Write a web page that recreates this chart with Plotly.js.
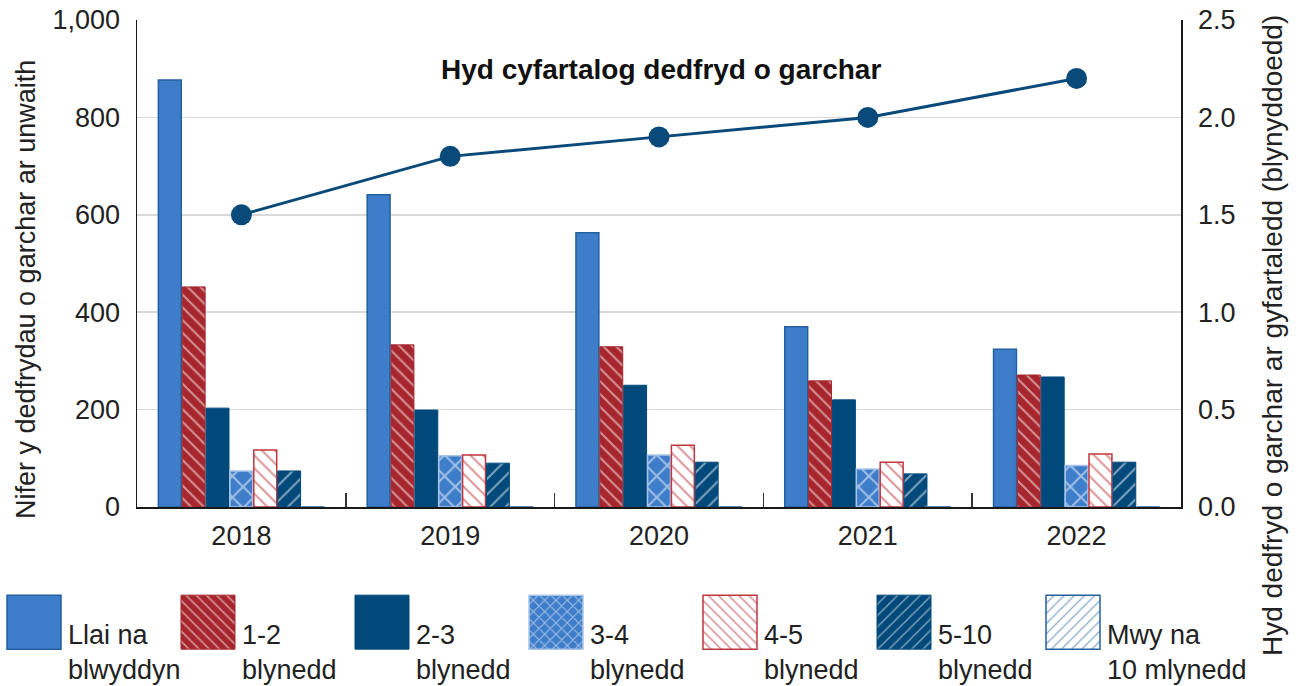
<!DOCTYPE html>
<html>
<head>
<meta charset="utf-8">
<script src="https://cdn.plot.ly/plotly-3.0.1.min.js"></script>
<style>html,body{margin:0;padding:0;background:#fff;}#chart{width:1300px;height:686px;}</style>
</head>
<body>
<div id="chart"></div>
<script>
const years = ['2018', '2019', '2020', '2021', '2022'];
const seriesNames = ['Llai na<br>blwyddyn', '1-2<br>blynedd', '2-3<br>blynedd', '3-4<br>blynedd', '4-5<br>blynedd', '5-10<br>blynedd', 'Mwy na<br>10 mlynedd'];
const llaiNaBlwyddyn = [877, 641, 563, 370, 324];
const blynedd1_2 = [452, 333, 329, 259, 271];
const blynedd2_3 = [203, 199, 250, 220, 267];
const blynedd3_4 = [74, 105, 107, 78, 85];
const blynedd4_5 = [117, 107, 127, 92, 109];
const blynedd5_10 = [74, 90, 92, 68, 92];
const mwyNa10 = [0, 0, 0, 0, 0];
const averageYears = [1.5, 1.8, 1.9, 2.0, 2.2];
const lineLabel = 'Hyd cyfartalog dedfryd o garchar';
const leftTitle = 'Nifer y dedfrydau o garchar ar unwaith';
const rightTitle = 'Hyd dedfryd o garchar ar gyfartaledd (blynyddoedd)';

const LIGHT = '#3e7dca', LIGHT_EDGE = '#22609f', RED = '#a7262d', NAVY = '#01497b';
const FONT = '"Liberation Sans", Arial, sans-serif';
const FS = 27;
const TXT = '#222222';

const styles = [
  {color: LIGHT, line: {color: LIGHT_EDGE, width: 1.5}},
  {color: RED, line: {color: RED, width: 1}, pattern: {shape: '\\', bgcolor: RED, fgcolor: '#ffffff', size: 9, solidity: 0.22, fillmode: 'overlay'}},
  {color: NAVY, line: {color: NAVY, width: 1}},
  {color: LIGHT, line: {color: '#a9c6ea', width: 1.5}, pattern: {shape: 'x', bgcolor: LIGHT, fgcolor: '#ffffff', size: 15, solidity: 0.26, fillmode: 'overlay'}},
  {color: '#ffffff', line: {color: '#c0363d', width: 1.5}, pattern: {shape: '\\', bgcolor: '#ffffff', fgcolor: '#b7282f', size: 9, solidity: 0.22, fillmode: 'overlay'}},
  {color: NAVY, line: {color: NAVY, width: 1}, pattern: {shape: '/', bgcolor: NAVY, fgcolor: '#ffffff', size: 11, solidity: 0.18, fillmode: 'overlay'}},
  {color: '#ffffff', line: {color: LIGHT_EDGE, width: 1.5}, pattern: {shape: '/', bgcolor: '#ffffff', fgcolor: LIGHT_EDGE, size: 9, solidity: 0.2, fillmode: 'overlay'}}
];
const seriesValues = [llaiNaBlwyddyn, blynedd1_2, blynedd2_3, blynedd3_4, blynedd4_5, blynedd5_10, mwyNa10];

const traces = seriesValues.map((vals, i) => ({
  type: 'bar', x: years, y: vals, name: seriesNames[i],
  marker: styles[i], hoverinfo: 'x+y', xaxis: 'x', yaxis: 'y',
  legend: i === 6 ? 'legend2' : 'legend'
}));
traces.push({
  type: 'scatter', mode: 'lines+markers', x: years, y: averageYears, yaxis: 'y2',
  line: {color: '#0a4a7a', width: 3}, marker: {size: 21, color: '#0a4a7a'},
  showlegend: false, name: lineLabel
});

const L = 137, R = 1181, T = 20, B = 507;
const pw = R - L, ph = B - T;
const px = v => (v - L) / pw;
const py = v => (B - v) / ph;

const legendBase = {
  orientation: 'h', xref: 'paper', yref: 'paper', y: py(609), xanchor: 'left', yanchor: 'top',
  entrywidth: 101, entrywidthmode: 'pixels', itemwidth: 58, valign: 'bottom',
  font: {size: FS, color: TXT, family: FONT}, traceorder: 'normal', bgcolor: 'rgba(0,0,0,0)'
};

const layout = {
  width: 1300, height: 686,
  margin: {l: L, r: 1300 - R, t: T, b: 686 - B, pad: 0, autoexpand: false},
  paper_bgcolor: '#ffffff', plot_bgcolor: '#ffffff',
  font: {family: FONT, size: FS, color: TXT},
  barmode: 'group', bargap: 0.2, bargroupgap: 0.04,
  xaxis: {
    type: 'category', tickson: 'boundaries', ticks: 'inside', ticklen: 14, tickwidth: 1.5, tickcolor: '#333',
    showline: true, linecolor: '#1a1a1a', linewidth: 1.5, showgrid: false, layer: 'above traces',
    tickfont: {size: FS, color: TXT}, automargin: false, ticklabelstandoff: 4
  },
  yaxis: {
    range: [0, 1000], dtick: 200, tickformat: ',d', showgrid: true, gridcolor: '#d9d9d9', gridwidth: 1.5,
    showline: true, linecolor: '#1a1a1a', linewidth: 1.5, ticks: '', zeroline: false,
    tickfont: {size: FS, color: TXT}, automargin: false, ticklabelstandoff: 10
  },
  yaxis2: {
    overlaying: 'y', side: 'right', range: [0, 2.5], dtick: 0.5, tickformat: '.1f', showgrid: false,
    showline: true, linecolor: '#1a1a1a', linewidth: 1.5, ticks: '', zeroline: false,
    tickfont: {size: FS, color: TXT}, automargin: false, ticklabelstandoff: 10
  },
  showlegend: true,
  legend: Object.assign({}, legendBase, {x: px(0)}),
  legend2: Object.assign({}, legendBase, {x: px(1039)}),
  annotations: [
    {text: '<b>' + lineLabel + '</b>', xref: 'paper', yref: 'paper', x: px(661), y: py(70), showarrow: false,
     font: {size: 28, color: '#111'}, xanchor: 'center', yanchor: 'middle'},
    {text: leftTitle, xref: 'paper', yref: 'paper', x: px(26), y: py(290), showarrow: false, textangle: -90,
     font: {size: FS, color: TXT}, xanchor: 'center', yanchor: 'middle'},
    {text: rightTitle, xref: 'paper', yref: 'paper', x: px(1272), y: py(336), showarrow: false, textangle: -90,
     font: {size: 28, color: TXT}, xanchor: 'center', yanchor: 'middle'}
  ]
};

Plotly.newPlot('chart', traces, layout, {displayModeBar: false, staticPlot: true}).then(gd => {
  const legends = gd.querySelectorAll('.legend, .legend2');
  legends.forEach(lg => {
    lg.removeAttribute('clip-path');
    lg.querySelectorAll('[clip-path]').forEach(el => el.removeAttribute('clip-path'));
    lg.querySelectorAll('.traces .legendpoints path').forEach(p => {
      p.setAttribute('d', 'M-27,-73H27V-19H-27Z');
    });
  });
});
</script>
</body>
</html>
